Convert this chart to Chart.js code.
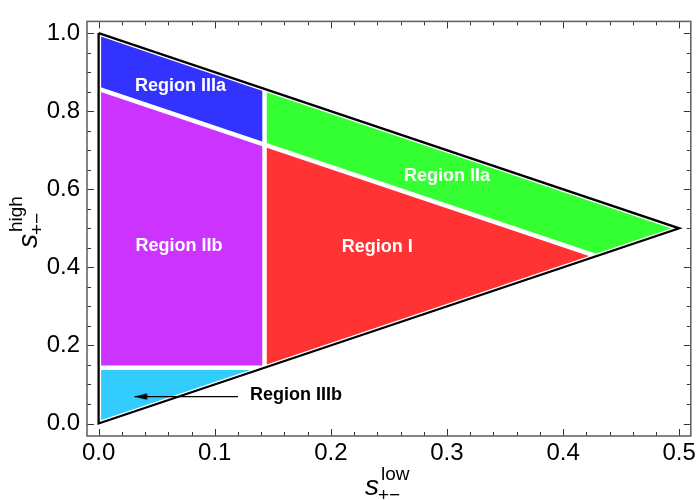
<!DOCTYPE html>
<html><head><meta charset="utf-8">
<script src="https://cdn.jsdelivr.net/npm/chart.js@4.4.1/dist/chart.umd.min.js"></script>
<style>html,body{margin:0;padding:0;background:#fff;}#wrap{width:699px;height:500px;}</style>
</head><body><div id="wrap"><canvas id="c" width="699" height="500"></canvas></div>
<script>
// ---- tick values / labels ----
const xTicks = [0, 0.1, 0.2, 0.3, 0.4, 0.5];
const xTickLabels = ['0.0', '0.1', '0.2', '0.3', '0.4', '0.5'];
const xMinorTicks = [0.02, 0.04, 0.06, 0.08, 0.12, 0.14, 0.16, 0.18, 0.22, 0.24, 0.26, 0.28, 0.32, 0.34, 0.36, 0.38, 0.42, 0.44, 0.46, 0.48];
const yTicks = [0, 0.2, 0.4, 0.6, 0.8, 1.0];
const yTickLabels = ['0.0', '0.2', '0.4', '0.6', '0.8', '1.0'];
const yMinorTicks = [0.05, 0.1, 0.15, 0.25, 0.3, 0.35, 0.45, 0.5, 0.55, 0.65, 0.7, 0.75, 0.85, 0.9, 0.95];

// ---- outer triangle ----
const triangleX = [0, 0.5, 0, 0];
const triangleY = [1, 0.5, 0, 1];

// ---- region polygons ----
const regionIIIaX = [0, 0.1429, 0.1429, 0];
const regionIIIaY = [1, 0.8571, 0.7143, 0.8571];
const regionIIaX = [0.1429, 0.5, 0.4286, 0.1429];
const regionIIaY = [0.8571, 0.5, 0.4286, 0.7143];
const regionIIbX = [0, 0.1429, 0.1429, 0];
const regionIIbY = [0.8571, 0.7143, 0.1429, 0.1429];
const regionIX = [0.1429, 0.4286, 0.1429];
const regionIY = [0.7143, 0.4286, 0.1429];
const regionIIIbX = [0, 0.1429, 0];
const regionIIIbY = [0.1429, 0.1429, 0];

// ---- separators ----
const sepDiagX = [0, 0.4286];
const sepDiagY = [0.8571, 0.4286];
const sepVertX = [0.1429, 0.1429];
const sepVertY = [0.1429, 0.8571];
const sepHorzX = [0, 0.1429];
const sepHorzY = [0.1429, 0.1429];

// ---- arrow ----
const arrowX = [0.120, 0.031];
const arrowY = [0.069, 0.069];

// ---- labels ----
const regionNames = ['Region IIIa', 'Region IIa', 'Region IIb', 'Region I', 'Region IIIb'];
const labelX = [0.0705, 0.300, 0.0692, 0.240, 0.170];
const labelY = [0.8635, 0.633, 0.455, 0.453, 0.073];

const FONT = '"Liberation Sans", Arial, Helvetica, sans-serif';
const pts = (xs, ys) => xs.map((x, i) => ({x: x, y: ys[i]}));

// arrowhead image (tip at the image centre)
const ah = document.createElement('canvas');
ah.width = 28; ah.height = 9;
const actx = ah.getContext('2d');
actx.fillStyle = '#000';
actx.beginPath(); actx.moveTo(14, 4.5); actx.lineTo(26.5, 1.2); actx.lineTo(26.5, 7.8); actx.closePath(); actx.fill();

function lineDs(data, color, width) {
  return {data: data, borderColor: color, borderWidth: width, fill: false, pointRadius: 0, tension: 0,
          borderCapStyle: 'butt', borderJoinStyle: 'miter'};
}
function regionDs(data, color) {
  return {data: data, borderColor: 'transparent', borderWidth: 0, backgroundColor: color, fill: 'shape', pointRadius: 0, tension: 0};
}

const datasets = [
  Object.assign(lineDs(pts(arrowX, arrowY), '#000', 1.2), {pointRadius: [0, 5], pointStyle: ah}),
  lineDs(pts(triangleX, triangleY), '#000', 2.3),
  lineDs(pts(triangleX, triangleY), '#fff', 5),
  lineDs(pts(sepDiagX, sepDiagY), '#fff', 4.5),
  lineDs(pts(sepVertX, sepVertY), '#fff', 4.5),
  lineDs(pts(sepHorzX, sepHorzY), '#fff', 4.5),
  regionDs(pts(regionIIIaX, regionIIIaY), '#3333ff'),
  regionDs(pts(regionIIaX, regionIIaY), '#33ff33'),
  regionDs(pts(regionIIbX, regionIIbY), '#cc33ff'),
  regionDs(pts(regionIX, regionIY), '#ff3333'),
  regionDs(pts(regionIIIbX, regionIIIbY), '#33ccff')
];
datasets[2].borderJoinStyle = 'round';

const framePlugin = {
  id: 'frame',
  afterDatasetsDraw(chart) {
    const ctx = chart.ctx, a = chart.chartArea;
    const xs = chart.scales.x, ys = chart.scales.y;
    ctx.save();
    ctx.strokeStyle = '#333';
    ctx.lineWidth = 1;
    const tick = (px, len, vertical) => {
      ctx.beginPath();
      if (vertical) {
        ctx.moveTo(px, a.bottom); ctx.lineTo(px, a.bottom - len);
        ctx.moveTo(px, a.top); ctx.lineTo(px, a.top + len);
      } else {
        ctx.moveTo(a.left, px); ctx.lineTo(a.left + len, px);
        ctx.moveTo(a.right, px); ctx.lineTo(a.right - len, px);
      }
      ctx.stroke();
    };
    xTicks.forEach(v => tick(Math.round(xs.getPixelForValue(v)) + 0.5, 7, true));
    xMinorTicks.forEach(v => tick(Math.round(xs.getPixelForValue(v)) + 0.5, 4, true));
    yTicks.forEach(v => tick(Math.round(ys.getPixelForValue(v)) + 0.5, 7, false));
    yMinorTicks.forEach(v => tick(Math.round(ys.getPixelForValue(v)) + 0.5, 4, false));
    ctx.strokeStyle = '#666';
    ctx.lineWidth = 1.6;
    ctx.strokeRect(a.left, a.top, a.right - a.left, a.bottom - a.top);
    ctx.restore();
  },
  afterDraw(chart) {
    const ctx = chart.ctx;
    const xs = chart.scales.x, ys = chart.scales.y;
    ctx.save();
    ctx.textAlign = 'center';
    ctx.textBaseline = 'middle';
    ctx.font = 'bold 18px ' + FONT;
    regionNames.forEach((name, i) => {
      ctx.fillStyle = (i === 4) ? '#000' : '#fff';
      ctx.fillText(name, xs.getPixelForValue(labelX[i]), ys.getPixelForValue(labelY[i]));
    });
    // axis titles
    ctx.textAlign = 'left';
    ctx.textBaseline = 'alphabetic';
    ctx.fillStyle = '#000';
    const title = (sup) => {
      ctx.font = 'italic 28px ' + FONT;
      ctx.fillText('s', 0, 0);
      ctx.font = '19px ' + FONT;
      ctx.fillText(sup, 16, -15);
      ctx.fillText('+\u2212', 13, 6);
    };
    ctx.save();
    ctx.translate(365, 495);
    title('low');
    ctx.restore();
    ctx.save();
    ctx.translate(37, 248);
    ctx.rotate(-Math.PI / 2);
    title('high');
    ctx.restore();
    ctx.restore();
  }
};

new Chart(document.getElementById('c'), {
  type: 'line',
  data: {datasets: datasets},
  options: {
    responsive: false,
    animation: false,
    events: [],
    layout: {padding: {top: 12, right: 7, left: 0, bottom: 0}},
    plugins: {legend: {display: false}, tooltip: {enabled: false}},
    scales: {
      x: {
        type: 'linear', min: -0.01, max: 0.51,
        grid: {display: false, drawTicks: false}, border: {display: false},
        afterBuildTicks: s => { s.ticks = xTicks.map(v => ({value: v})); },
        afterFit: s => { s.height = 64; },
        ticks: {font: {family: FONT, size: 24}, color: '#000', padding: 3, maxRotation: 0, autoSkip: false,
                callback: v => xTickLabels[xTicks.indexOf(v)]}
      },
      y: {
        type: 'linear', min: -0.032, max: 1.03,
        grid: {display: false, drawTicks: false}, border: {display: false},
        afterBuildTicks: s => { s.ticks = yTicks.map(v => ({value: v})); },
        afterFit: s => { s.width = 87; },
        ticks: {font: {family: FONT, size: 24}, color: '#000', padding: 7, autoSkip: false,
                callback: v => yTickLabels[yTicks.indexOf(v)]}
      }
    }
  },
  plugins: [framePlugin]
});
</script>
</body></html>
